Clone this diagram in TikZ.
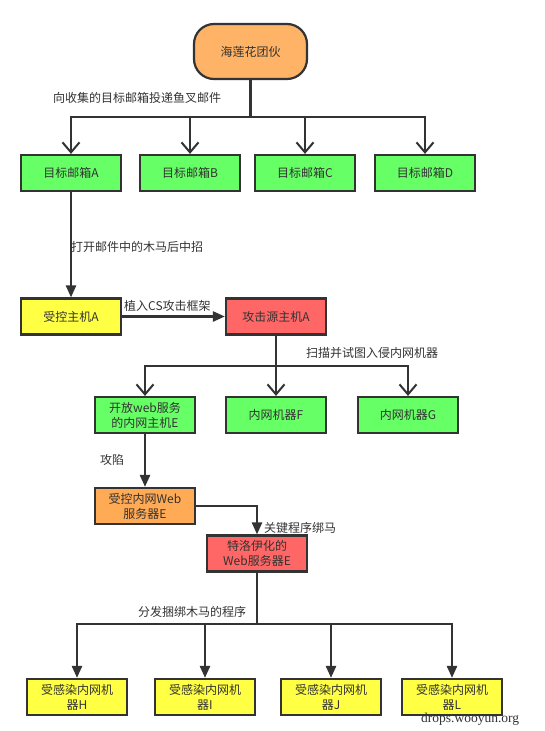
\documentclass[tikz,border=0pt]{standalone}
\usepackage{fontspec}
\setmainfont{Noto Sans CJK SC}
\newfontfamily\wmfont{Liberation Serif}
\usetikzlibrary{arrows.meta}
\definecolor{ln}{HTML}{333333}
\definecolor{cOr}{HTML}{FFB366}
\definecolor{cOr2}{HTML}{FFAA55}
\definecolor{cGr}{HTML}{66FF66}
\definecolor{cYe}{HTML}{FFFF44}
\definecolor{cRe}{HTML}{FF6666}
\tikzset{
  box/.style={draw=ln, line width=2.2pt, minimum width=100pt, minimum height=36pt, inner sep=0pt,
    font=\fontsize{12pt}{15pt}\selectfont, text=ln, align=center},
  lab/.style={anchor=west, inner sep=0pt, font=\fontsize{12pt}{15pt}\selectfont, text=ln},
  conn/.style={draw=ln, line width=2.4pt},
  openarr/.style={conn, -{Straight Barb[length=10pt,width=17pt,line width=2pt]}},
  fillarr/.style={conn, -{Triangle[length=12pt,width=10pt]}},
}
\begin{document}
\begin{tikzpicture}[x=1pt,y=-1pt]
\fill[white] (0,0) rectangle (545,731);
\useasboundingbox (0,0) rectangle (545,731);
% nodes
\node[box, fill=cOr, minimum width=113pt, minimum height=55pt, rounded corners=20pt] (top) at (250.5,51.5) {海莲花团伙};
\node[box, fill=cGr] (mA) at (71,173) {目标邮箱A};
\node[box, fill=cGr] (mB) at (190,173) {目标邮箱B};
\node[box, fill=cGr] (mC) at (305,173) {目标邮箱C};
\node[box, fill=cGr] (mD) at (425,173) {目标邮箱D};
\node[box, fill=cYe] (hA) at (71,316.5) {受控主机A};
\node[box, fill=cRe] (atk) at (276,316.5) {攻击源主机A};
\node[box, fill=cGr] (E) at (145,415) {开放web服务\\的内网主机E};
\node[box, fill=cGr] (F) at (276,415) {内网机器F};
\node[box, fill=cGr] (G) at (408,415) {内网机器G};
\node[box, fill=cOr2] (wE) at (145,506) {受控内网Web\\服务器E};
\node[box, fill=cRe] (tW) at (257,553.5) {特洛伊化的\\Web服务器E};
\node[box, fill=cYe] (H) at (77,697) {受感染内网机\\器H};
\node[box, fill=cYe] (I) at (205,697) {受感染内网机\\器I};
\node[box, fill=cYe] (J) at (331,697) {受感染内网机\\器J};
\node[box, fill=cYe] (L) at (452,697) {受感染内网机\\器L};
% junctions
\coordinate (b1) at (250.5,117);
\coordinate (b2) at (276,366);
\coordinate (b3) at (257,624);
% connectors
\draw[conn] (top) -- (b1);
\draw[openarr] (b1) -| (mA);
\draw[openarr] (b1) -| (mB);
\draw[openarr] (b1) -| (mC);
\draw[openarr] (b1) -| (mD);
\draw[fillarr] (mA) -- (hA);
\draw[fillarr] (hA) -- (atk);
\draw[conn] (atk) -- (b2);
\draw[openarr] (b2) -| (E);
\draw[openarr] (b2) -- (F);
\draw[openarr] (b2) -| (G);
\draw[fillarr] (E) -- (wE);
\draw[fillarr] (wE.east) -| (tW.north);
\draw[conn] (tW) -- (b3);
\draw[fillarr] (b3) -| (H);
\draw[fillarr] (b3) -| (I);
\draw[fillarr] (b3) -| (J);
\draw[fillarr] (b3) -| (L);
% labels
\node[lab] (l1) at (53,98) {向收集的目标邮箱投递鱼叉邮件};
\node[lab] (l2) at (71,247) {打开邮件中的木马后中招};
\node[lab] (l3) at (124,306) {植入CS攻击框架};
\node[lab] (l4) at (306,353) {扫描并试图入侵内网机器};
\node[lab] (l5) at (100,460) {攻陷};
\node[lab] (l6) at (264,528) {关键程序绑马};
\node[lab] (l7) at (138,612) {分发捆绑木马的程序};
\node[anchor=west, inner sep=0pt, font=\wmfont\fontsize{13.5pt}{15pt}\selectfont, text=ln] (wm) at (421,719) {drops.wooyun.org};
\end{tikzpicture}
\end{document}
